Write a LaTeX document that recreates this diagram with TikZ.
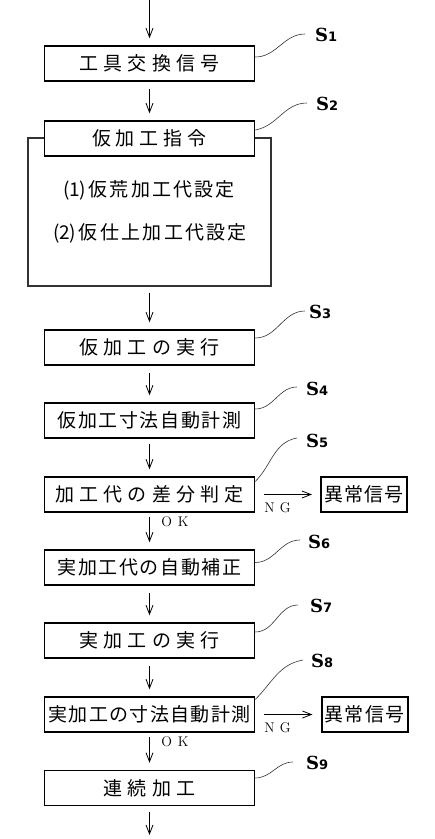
\documentclass[tikz,border=0pt]{standalone}
\usepackage{fontspec}
\newfontfamily\jpfont{Noto Sans CJK JP}
\newfontfamily\sfont{DejaVu Serif}
\newfontfamily\dfont{DejaVu Sans}
\usetikzlibrary{arrows.meta}
\newcommand\spr[2]{\makebox[#1pt][s]{#2}}
\newcommand\snum[1]{{\dfont\bfseries\fontsize{13}{13}\selectfont #1}}
\tikzset{
  box/.style={draw=black, line width=1.5pt, fill=white, minimum width=210pt,
    minimum height=35pt, inner sep=0pt, font=\jpfont\fontsize{19}{19}\selectfont},
  errbox/.style={box, minimum width=86pt, line width=2pt},
  bigbox/.style={draw=black!80, line width=1.3pt, minimum width=243pt,
    minimum height=148pt, inner sep=0pt},
  inner/.style={inner sep=0pt, font=\jpfont\fontsize{19}{19}\selectfont},
  flow/.style={-{Straight Barb[length=9pt,width=7pt]}, line width=0.8pt,
    shorten <=7pt, shorten >=7pt},
  lead/.style={line width=0.6pt, draw=black!80},
  slab/.style={anchor=base west, inner sep=0pt, font=\sfont\bfseries\fontsize{18}{18}\selectfont},
  small/.style={font=\fontsize{14}{14}\selectfont, inner sep=0pt},
}
\begin{document}
\begin{tikzpicture}[x=1pt,y=-1pt]
\useasboundingbox (0,0) rectangle (435,839);

% big frame of S2
\node[bigbox] (big) at (149.5,212) {};
\node[inner] (t1) at (149,190) {\spr{172}{(1)\hfil 仮\hfil 荒\hfil 加\hfil 工\hfil 代\hfil 設\hfil 定}};
\node[inner] (t2) at (150,233) {\spr{194}{(2)\hfil 仮\hfil 仕\hfil 上\hfil 加\hfil 工\hfil 代\hfil 設\hfil 定}};

% boxes
\node[box] (b1) at (149.5,63.5) {\spr{140}{工\hfil 具\hfil 交\hfil 換\hfil 信\hfil 号}};
\node[box] (b2) at (149.5,138.5) {\spr{115}{仮\hfil 加\hfil 工\hfil 指\hfil 令}};
\node[box] (b3) at (149.5,347.5) {\spr{140}{仮\hfil 加\hfil 工\hfil の\hfil 実\hfil 行}};
\node[box] (b4) at (149.5,420.5) {\spr{184}{仮\hfil 加\hfil 工\hfil 寸\hfil 法\hfil 自\hfil 動\hfil 計\hfil 測}};
\node[box] (b5) at (149.5,494.5) {\spr{188}{加\hfil 工\hfil 代\hfil の\hfil 差\hfil 分\hfil 判\hfil 定}};
\node[box] (b6) at (149.5,567.5) {\spr{184}{実\hfil 加\hfil 工\hfil 代\hfil の\hfil 自\hfil 動\hfil 補\hfil 正}};
\node[box] (b7) at (149.5,640.5) {\spr{140}{実\hfil 加\hfil 工\hfil の\hfil 実\hfil 行}};
\node[box] (b8) at (149.5,714.5) {\spr{202}{実\hfil 加\hfil 工\hfil の\hfil 寸\hfil 法\hfil 自\hfil 動\hfil 計\hfil 測}};
\node[box] (b9) at (149.5,788) {\spr{92}{連\hfil 続\hfil 加\hfil 工}};

\node[errbox] (e1) at (364,494.5) {\spr{80}{異\hfil 常\hfil 信\hfil 号}};
\node[errbox] (e2) at (364.5,714.5) {\spr{80}{異\hfil 常\hfil 信\hfil 号}};

% flow arrows
\coordinate (top) at (149.5,0);
\coordinate (bot) at (149.5,839);
\draw[flow, shorten <=0pt] (top) -- (b1.north);
\draw[flow] (b1.south) -- (b2.north);
\draw[flow, shorten <=6pt] (big.south) -- (b3.north);
\draw[flow] (b3.south) -- (b4.north);
\draw[flow, shorten <=5pt] (b4.south) -- (b5.north);
\draw[flow, shorten <=4pt] (b5.south) -- (b6.north);
\draw[flow] (b6.south) -- (b7.north);
\draw[flow] (b7.south) -- (b8.north);
\draw[flow, shorten <=4pt] (b8.south) -- (b9.north);
\draw[flow, shorten <=6pt, shorten >=4pt] (b9.south) -- (bot);

\draw[flow, shorten <=9pt, shorten >=8pt] (b5.east) -- (e1.west);
\draw[flow, shorten <=9pt, shorten >=8pt] (b8.east) -- (e2.west);

\node[small] (ng1) at (277.5,508) {N\hspace{5pt}G};
\node[small] (ng2) at (277.5,728) {N\hspace{5pt}G};
\node[small] (ok1) at (175,522) {O\hspace{6pt}K};
\node[small] (ok2) at (175,742) {O\hspace{6pt}K};

% step labels
\node[slab] (s1) at (315,41) {S\snum{1}};
\node[slab] (s2) at (316,110) {S\snum{2}};
\node[slab] (s3) at (309,318) {S\snum{3}};
\node[slab] (s4) at (306,395) {S\snum{4}};
\node[slab] (s5) at (306,447) {S\snum{5}};
\node[slab] (s6) at (308,548) {S\snum{6}};
\node[slab] (s7) at (310,612) {S\snum{7}};
\node[slab] (s8) at (311,667) {S\snum{8}};
\node[slab] (s9) at (306,769) {S\snum{9}};

\coordinate (l1) at (305,34);
\coordinate (l2) at (307,103);
\coordinate (l3) at (305,311);
\coordinate (l4) at (297,387);
\coordinate (l5) at (297,438);
\coordinate (l6) at (300,540);
\coordinate (l7) at (298,605);
\coordinate (l8) at (303,660);
\coordinate (l9) at (293,762);

\draw[lead] ([yshift=6.5pt]b1.east) to[out=0,in=180] (l1);
\draw[lead] ([yshift=8.5pt]b2.east) to[out=10,in=180] (l2);
\draw[lead] ([yshift=9.5pt]b3.east) to[out=0,in=180] (l3);
\draw[lead] ([yshift=11.5pt]b4.east) to[out=0,in=180] (l4);
\draw[lead] ([yshift=13pt]b5.east) to[out=45,in=190] (l5);
\draw[lead] ([yshift=5pt]b6.east) to[out=0,in=180] (l6);
\draw[lead] ([yshift=8.5pt]b7.east) to[out=0,in=180] (l7);
\draw[lead] ([yshift=15pt]b8.east) to[out=45,in=190] (l8);
\draw[lead] ([yshift=10pt]b9.east) to[out=0,in=180] (l9);
\end{tikzpicture}
\end{document}
